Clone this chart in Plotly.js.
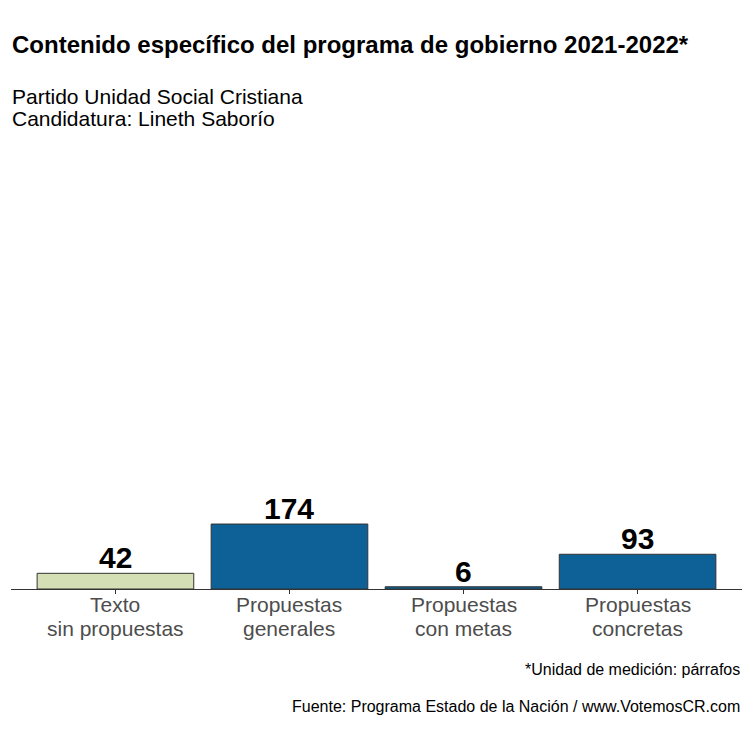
<!DOCTYPE html>
<html>
<head>
<meta charset="utf-8">
<script src="https://cdn.plot.ly/plotly-3.0.1.min.js"></script>
<style>
  html, body { margin: 0; padding: 0; background: #fff; }
  #chart { width: 750px; height: 738px; }
</style>
</head>
<body>
<div id="chart"></div>
<script>
/* ---------- Data ---------- */
const labelTop = ["Texto", "Propuestas", "Propuestas", "Propuestas"];
const labelBottom = ["sin propuestas", "generales", "con metas", "concretas"];
const categories = labelTop.map((t, i) => `${t} ${labelBottom[i]}`);
const paragraphs = [42, 174, 6, 93];
const barColors = ["#d5dfb5", "#0e6196", "#0e6196", "#0e6196"];

const titleText = "<b>Contenido específico del programa de gobierno 2021-2022*</b>";
const subtitleLines = ["Partido Unidad Social Cristiana", "Candidatura: Lineth Saborío"];
const noteText = "*Unidad de medición: párrafos";
const sourceText = "Fuente: Programa Estado de la Nación / www.VotemosCR.com";

/* ---------- Helpers ---------- */
const font = "Liberation Sans, Arial, sans-serif";

function paperText(text, x, y, xanchor, size, color) {
  return {
    text, xref: "paper", yref: "paper", x, y,
    xanchor, yanchor: "middle", showarrow: false, align: xanchor,
    font: { family: font, size, color },
  };
}

/* ---------- Chart ---------- */
const trace = {
  type: "bar",
  x: categories,
  y: paragraphs,
  width: 0.9,
  marker: { color: barColors, line: { color: "#333333", width: 1 } },
  hoverinfo: "skip",
};

// value labels above bars
const valueLabels = paragraphs.map((v, i) => ({
  text: `<b>${v}</b>`, x: categories[i], y: v, xref: "x", yref: "y",
  xanchor: "center", yanchor: "bottom", yshift: -3, showarrow: false,
  font: { family: font, size: 30, color: "#000" },
}));

// two-line category labels (tighter spacing than plotly tick labels)
const tickLabels = [];
categories.forEach((c, i) => {
  tickLabels.push({
    text: labelTop[i], x: c, y: -0.0357, xref: "x", yref: "paper",
    xanchor: "center", yanchor: "middle", showarrow: false,
    font: { family: font, size: 21, color: "#4d4d4d" },
  });
  tickLabels.push({
    text: labelBottom[i], x: c, y: -0.0871, xref: "x", yref: "paper",
    xanchor: "center", yanchor: "middle", showarrow: false,
    font: { family: font, size: 21, color: "#4d4d4d" },
  });
});

const layout = {
  width: 750,
  height: 738,
  margin: { l: 11, r: 8, t: 141, b: 149 },
  paper_bgcolor: "#fff",
  plot_bgcolor: "#fff",
  showlegend: false,
  font: { family: font },
  xaxis: {
    range: [-0.6, 3.6],
    showline: true,
    linecolor: "#333333",
    linewidth: 1.2,
    ticks: "outside",
    ticklen: 4,
    tickcolor: "#333333",
    showticklabels: false,
    showgrid: false,
    zeroline: false,
    fixedrange: true,
  },
  yaxis: {
    range: [0, 1200],
    visible: false,
    showgrid: false,
    zeroline: false,
    fixedrange: true,
  },
  annotations: [
    paperText(titleText, -0.0014, 1.2165, "left", 24, "#000"),
    paperText(subtitleLines[0], -0.0014, 1.1004, "left", 21, "#000"),
    paperText(subtitleLines[1], -0.0014, 1.0513, "left", 21, "#000"),
    paperText(noteText, 1, -0.1808, "right", 16, "#000"),
    paperText(sourceText, 1, -0.2612, "right", 16, "#000"),
    ...valueLabels,
    ...tickLabels,
  ],
};

Plotly.newPlot("chart", [trace], layout, { displayModeBar: false, staticPlot: true });
</script>
</body>
</html>
